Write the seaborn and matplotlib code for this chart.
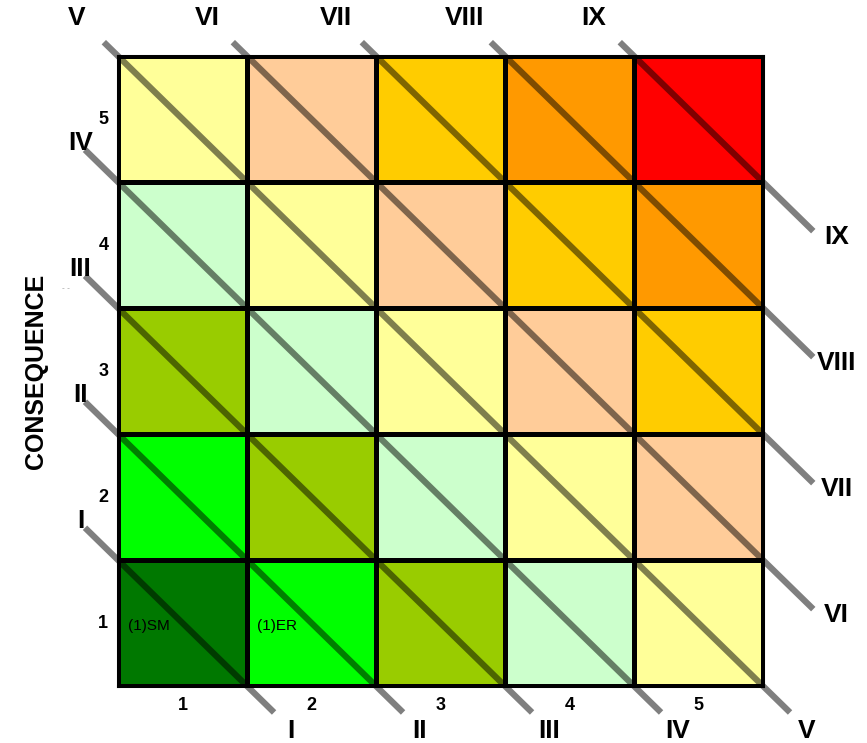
import numpy as np
import pandas as pd
import matplotlib
matplotlib.use("Agg")
import matplotlib.pyplot as plt
from matplotlib.colors import ListedColormap
import seaborn as sns

# ---- data ----
likelihood = [1, 2, 3, 4, 5]
consequence = [5, 4, 3, 2, 1]          # top to bottom
risk_levels = [2, 3, 4, 5, 6, 7, 8, 9, 10]
level_colors = ["#007800", "#00FF00", "#99CC00", "#CCFFCC", "#FFFF99",
                "#FFCC99", "#FFCC00", "#FF9900", "#FF0000"]
roman = ["I", "II", "III", "IV", "V", "VI", "VII", "VIII", "IX"]
cell_notes = [("(1)SM", 1, 1), ("(1)ER", 2, 1)]   # text, likelihood, consequence
x_title = ""
y_title = "CONSEQUENCE"

sns.set_theme(style="white")
plt.rcParams["font.family"] = ["Liberation Sans", "DejaVu Sans"]
plt.rcParams["text.color"] = "black"
plt.rcParams["axes.labelcolor"] = "black"
plt.rcParams["xtick.color"] = "black"
plt.rcParams["ytick.color"] = "black"

scores = pd.DataFrame([[l + c for l in likelihood] for c in consequence],
                      index=consequence, columns=likelihood)

fig = plt.figure(figsize=(8.67, 7.43), dpi=100)
ax = fig.add_axes([0.1361, 0.0767, 0.7439, 0.8479])
cmap = ListedColormap(level_colors)
sns.heatmap(scores, ax=ax, cmap=cmap, vmin=risk_levels[0] - 0.5,
            vmax=risk_levels[-1] + 0.5, cbar=False, linewidths=2.2,
            linecolor="black", square=False)

for s in ax.spines.values():
    s.set_visible(True)
    s.set_color("black")
    s.set_linewidth(2.2)

ax.tick_params(length=0)
ax.set_xticklabels(likelihood, fontsize=13, fontweight="bold", rotation=0,
                   color="black")
ax.set_yticklabels(consequence, fontsize=13, fontweight="bold", rotation=0,
                   color="black")
ax.tick_params(axis="x", pad=8)
ax.tick_params(axis="y", pad=7)
ax.set_xlabel(x_title)
ax.set_ylabel(y_title, fontsize=18, fontweight="bold", labelpad=36,
              color="black")

FS = 19
n_lik = len(likelihood)
n_con = len(consequence)
x_lo, x_hi = -0.256, n_lik + 0.39
y_top, y_bot = -0.11, n_con + 0.21
for k, lab in enumerate(roman, start=1):
    if k <= 5:
        c0 = (0, n_con - k)
        if k < 5:
            xs, ys = x_lo, c0[1] + (x_lo - c0[0])
        else:
            xs, ys = y_top, y_top
        xe = c0[0] + (y_bot - c0[1])
        ye = y_bot
        if k < 5:
            ax.text(-0.29, n_con - k - 0.31, lab, ha="center", va="center",
                    fontsize=FS, fontweight="bold", color="black", clip_on=False)
        else:
            ax.text(-0.32, -0.30, lab, ha="center", va="center",
                    fontsize=FS, fontweight="bold", color="black", clip_on=False)
        ax.text(k + 0.34, n_con + 0.36, lab, ha="center", va="center",
                fontsize=FS, fontweight="bold", color="black", clip_on=False)
    else:
        c0 = (k - 5, 0)
        xs, ys = c0[0] + y_top, y_top
        xe = x_hi
        ye = c0[1] + (x_hi - c0[0])
        ax.text(k - 5 - 0.31, -0.30, lab, ha="center", va="center",
                fontsize=FS, fontweight="bold", color="black", clip_on=False)
        ax.text(x_hi + 0.18, ye + 0.05, lab, ha="center", va="center",
                fontsize=FS, fontweight="bold", color="black", clip_on=False)
    ax.plot([xs, xe], [ys, ye], color="black", alpha=0.5, lw=4.5,
            solid_capstyle="butt", clip_on=False, zorder=5)

for txt, l, c in cell_notes:
    col = likelihood.index(l)
    row = consequence.index(c)
    ax.text(col + 0.08, row + 0.52, txt, ha="left", va="center",
            fontsize=11, color="black", zorder=6)

fig.text(0.076, 1 - 288 / 743, "- -", color="#999999", fontsize=6,
         ha="center", va="center")

fig.savefig("out.png", dpi=100)
